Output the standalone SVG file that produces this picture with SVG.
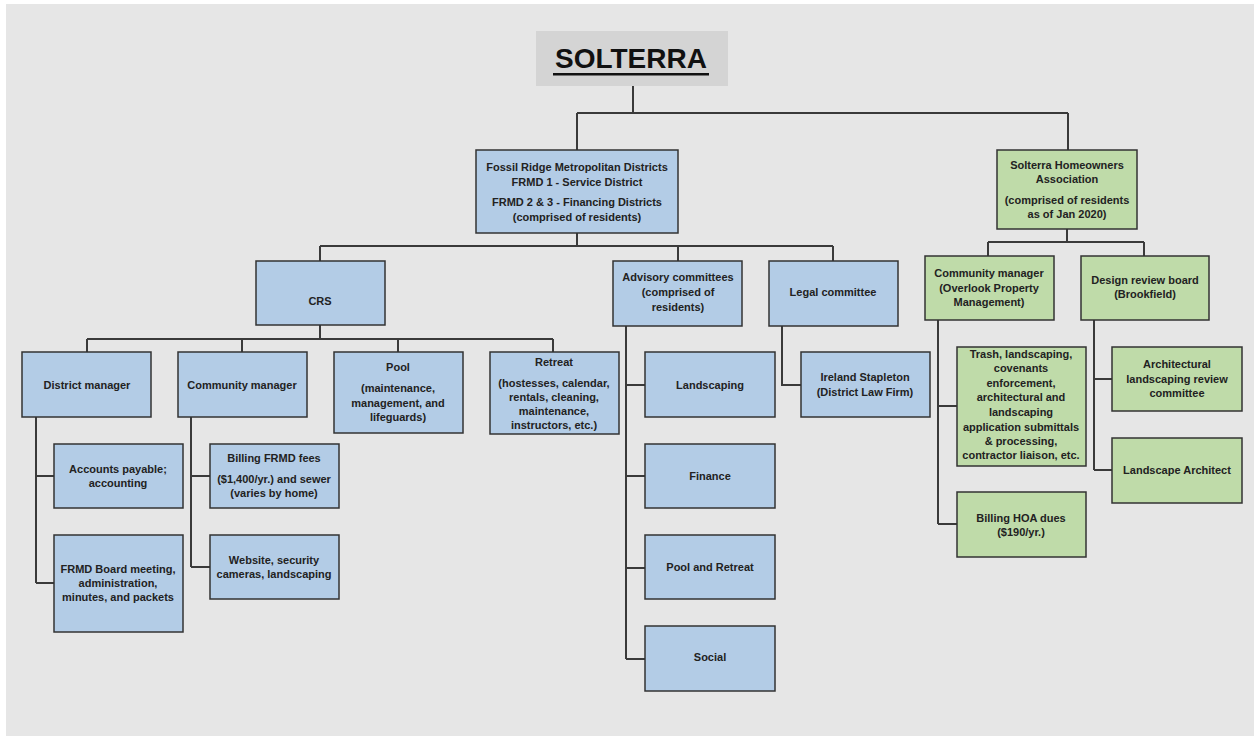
<svg xmlns="http://www.w3.org/2000/svg" width="1254" height="736" viewBox="0 0 1254 736">
<style>
.bg{fill:#e6e6e6}
.b{fill:#b3cce6;stroke:#333;stroke-width:1.5}
.g{fill:#bfdba9;stroke:#333;stroke-width:1.5}
.t{font-family:"Liberation Sans",Arial,sans-serif;font-weight:bold;font-size:11px;fill:#222;text-anchor:middle}
.c{fill:none;stroke:#3a3a3a;stroke-width:2}
</style>
<rect x="0" y="0" width="1254" height="736" fill="#ffffff"/>
<rect class="bg" x="6" y="4" width="1248" height="732"/>
<g id="title">
<rect x="536" y="31" width="192" height="55" fill="#d4d4d4"/>
<text x="631" y="68" font-family="Liberation Sans,Arial,sans-serif" font-weight="bold" font-size="28" fill="#111" text-anchor="middle">SOLTERRA</text>
<rect x="553" y="73" width="156" height="2.5" fill="#111"/>
</g>
<g id="connectors">
<path class="c" d="M633 86V113M577 113H1068M577 113V150M1068 113V150"/>
<path class="c" d="M577 233V246M320 246H833M320 246V261M678 246V261M833 246V261"/>
<path class="c" d="M320 325V339M87 339H553M87 339V352M242 339V352M398 339V352M553 339V352"/>
<path class="c" d="M36 417V583M36 476H54M36 583H54"/>
<path class="c" d="M191 417V567M191 476H210M191 567H210"/>
<path class="c" d="M626 326V659M626 385H645M626 476H645M626 568H645M626 659H645"/>
<path class="c" d="M782 326V385H801"/>
<path class="c" d="M1067 229V242M988 242H1144M988 242V256M1144 242V256"/>
<path class="c" d="M938 320V524M938 406H957M938 524H957"/>
<path class="c" d="M1094 320V470M1094 379H1112M1094 470H1112"/>
</g>
<g id="frmd">
<rect class="b" x="476" y="150" width="202" height="83"/>
<text class="t" x="577" y="171">Fossil Ridge Metropolitan Districts</text>
<text class="t" x="577" y="186">FRMD 1 - Service District</text>
<text class="t" x="577" y="206">FRMD 2 &amp; 3 - Financing Districts</text>
<text class="t" x="577" y="221">(comprised of residents)</text>
</g>
<g id="hoa">
<rect class="g" x="997" y="150" width="140" height="79"/>
<text class="t" x="1067" y="169">Solterra Homeowners</text>
<text class="t" x="1067" y="183">Association</text>
<text class="t" x="1067" y="204">(comprised of residents</text>
<text class="t" x="1067" y="218">as of Jan 2020)</text>
</g>
<g id="crs">
<rect class="b" x="256" y="261" width="129" height="64"/>
<text class="t" x="320" y="305">CRS</text>
</g>
<g id="advisory">
<rect class="b" x="613" y="261" width="129" height="65"/>
<text class="t" x="678" y="281">Advisory committees</text>
<text class="t" x="678" y="296">(comprised of</text>
<text class="t" x="678" y="311">residents)</text>
</g>
<g id="legal">
<rect class="b" x="769" y="261" width="129" height="65"/>
<text class="t" x="833" y="296">Legal committee</text>
</g>
<g id="district-manager">
<rect class="b" x="22" y="352" width="129" height="65"/>
<text class="t" x="87" y="389">District manager</text>
</g>
<g id="community-manager">
<rect class="b" x="178" y="352" width="129" height="65"/>
<text class="t" x="242" y="389">Community manager</text>
</g>
<g id="pool">
<rect class="b" x="334" y="352" width="129" height="81"/>
<text class="t" x="398" y="371">Pool</text>
<text class="t" x="398" y="392">(maintenance,</text>
<text class="t" x="398" y="407">management, and</text>
<text class="t" x="398" y="421">lifeguards)</text>
</g>
<g id="retreat">
<rect class="b" x="490" y="352" width="129" height="82"/>
<text class="t" x="554" y="366">Retreat</text>
<text class="t" x="554" y="387">(hostesses, calendar,</text>
<text class="t" x="554" y="401">rentals, cleaning,</text>
<text class="t" x="554" y="415">maintenance,</text>
<text class="t" x="554" y="429">instructors, etc.)</text>
</g>
<g id="landscaping">
<rect class="b" x="645" y="352" width="130" height="65"/>
<text class="t" x="710" y="389">Landscaping</text>
</g>
<g id="ireland">
<rect class="b" x="801" y="352" width="129" height="65"/>
<text class="t" x="865" y="381">Ireland Stapleton</text>
<text class="t" x="865" y="396">(District Law Firm)</text>
</g>
<g id="accounts">
<rect class="b" x="54" y="444" width="129" height="64"/>
<text class="t" x="118" y="473">Accounts payable;</text>
<text class="t" x="118" y="487">accounting</text>
</g>
<g id="frmd-board">
<rect class="b" x="54" y="535" width="129" height="97"/>
<text class="t" x="118" y="573">FRMD Board meeting,</text>
<text class="t" x="118" y="587">administration,</text>
<text class="t" x="118" y="601">minutes, and packets</text>
</g>
<g id="billing-frmd">
<rect class="b" x="210" y="444" width="129" height="64"/>
<text class="t" x="274" y="462">Billing FRMD fees</text>
<text class="t" x="274" y="483">($1,400/yr.) and sewer</text>
<text class="t" x="274" y="497">(varies by home)</text>
</g>
<g id="website">
<rect class="b" x="210" y="535" width="129" height="64"/>
<text class="t" x="274" y="564">Website, security</text>
<text class="t" x="274" y="578">cameras, landscaping</text>
</g>
<g id="finance">
<rect class="b" x="645" y="444" width="130" height="64"/>
<text class="t" x="710" y="480">Finance</text>
</g>
<g id="pool-retreat">
<rect class="b" x="645" y="535" width="130" height="64"/>
<text class="t" x="710" y="571">Pool and Retreat</text>
</g>
<g id="social">
<rect class="b" x="645" y="626" width="130" height="65"/>
<text class="t" x="710" y="661">Social</text>
</g>
<g id="hoa-community-manager">
<rect class="g" x="925" y="256" width="129" height="64"/>
<text class="t" x="989" y="277">Community manager</text>
<text class="t" x="989" y="292">(Overlook Property</text>
<text class="t" x="989" y="306">Management)</text>
</g>
<g id="design-review">
<rect class="g" x="1081" y="256" width="128" height="64"/>
<text class="t" x="1145" y="284">Design review board</text>
<text class="t" x="1145" y="298">(Brookfield)</text>
</g>
<g id="trash">
<rect class="g" x="957" y="347" width="129" height="119"/>
<text class="t" x="1021" y="358">Trash, landscaping,</text>
<text class="t" x="1021" y="372">covenants</text>
<text class="t" x="1021" y="387">enforcement,</text>
<text class="t" x="1021" y="401">architectural and</text>
<text class="t" x="1021" y="416">landscaping</text>
<text class="t" x="1021" y="431">application submittals</text>
<text class="t" x="1021" y="445">&amp; processing,</text>
<text class="t" x="1021" y="459">contractor liaison, etc.</text>
</g>
<g id="billing-hoa">
<rect class="g" x="957" y="492" width="129" height="65"/>
<text class="t" x="1021" y="522">Billing HOA dues</text>
<text class="t" x="1021" y="536">($190/yr.)</text>
</g>
<g id="arch-review">
<rect class="g" x="1112" y="347" width="130" height="64"/>
<text class="t" x="1177" y="368">Architectural</text>
<text class="t" x="1177" y="383">landscaping review</text>
<text class="t" x="1177" y="397">committee</text>
</g>
<g id="landscape-architect">
<rect class="g" x="1112" y="438" width="130" height="65"/>
<text class="t" x="1177" y="474">Landscape Architect</text>
</g>
</svg>
